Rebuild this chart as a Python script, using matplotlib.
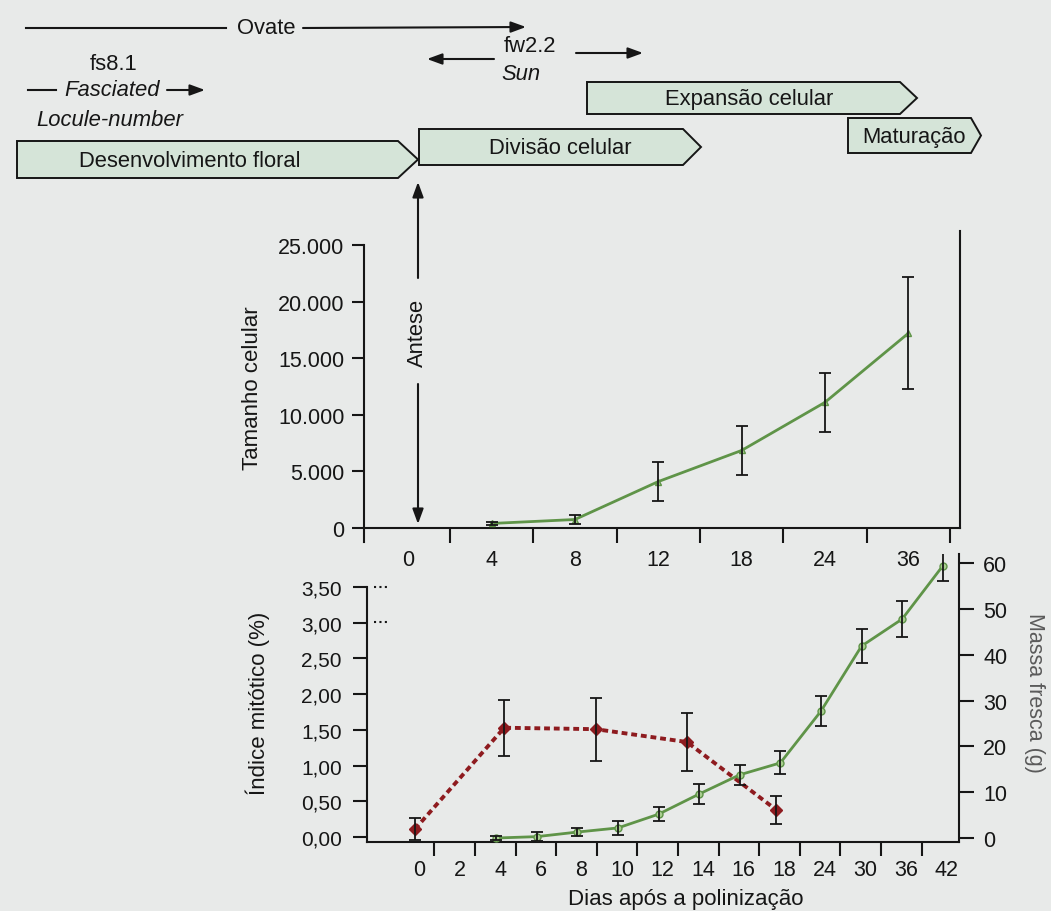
import matplotlib
matplotlib.use('Agg')
import matplotlib.pyplot as plt
from matplotlib.patches import Polygon
from matplotlib.ticker import FixedLocator

plt.rcParams['font.family'] = ['Liberation Sans', 'DejaVu Sans']

# ---------------- data ----------------
upper_labels = ['0', '4', '8', '12', '18', '24', '36']
cell_pos = [1, 2, 3, 4, 5, 6]
cell_size = [400, 750, 4100, 6850, 11100, 17200]
cell_err = [100, 400, 1720, 2180, 2620, 4930]
cell_yticks = [0, 5000, 10000, 15000, 20000, 25000]

lower_labels = ['0', '2', '4', '6', '8', '10', '12', '14', '16', '18', '24', '30', '36', '42']
mitotic_pos = [0.0, 2.2, 4.45, 6.7, 8.9]
mitotic = [0.11, 1.53, 1.51, 1.33, 0.38]
mitotic_err = [0.15, 0.39, 0.44, 0.40, 0.20]
mitotic_yticks = [0.0, 0.5, 1.0, 1.5, 2.0, 2.5, 3.0, 3.5]

mass_pos = [2, 3, 4, 5, 6, 7, 8, 9, 10, 11, 12, 13]
mass = [0.0, 0.3, 1.3, 2.2, 5.2, 9.6, 13.8, 16.4, 27.7, 41.9, 47.8, 59.4]
mass_err = [0.5, 1.0, 0.9, 1.5, 1.5, 2.2, 2.2, 2.5, 3.35, 3.7, 4.0, 3.2]
mass_yticks = [0, 10, 20, 30, 40, 50, 60]

phases = ['Desenvolvimento floral', 'Divisão celular', 'Expansão celular', 'Maturação']

# ---------------- style ----------------
BG = '#e8eae9'
BOX = '#d5e4d8'
GREEN = '#5f9448'
GREEN_FILL = '#a9cf8f'
RED = '#8e1b1f'
INK = '#161616'
W, H = 1051, 912
LW = 1.5
FS = 15.8

plt.rcParams['text.color'] = INK
plt.rcParams['xtick.color'] = INK
plt.rcParams['ytick.color'] = INK

fig = plt.figure(figsize=(W / 100, H / 100), dpi=100, facecolor=BG)


def rect(l, t, r, b):
    return [l / W, 1 - b / H, (r - l) / W, (b - t) / H]


# ---------------- upper chart: cell size ----------------
ax1 = fig.add_axes(rect(364, 232, 960, 543))
ax1.set_facecolor('none')
ax1.set_xlim(-0.53, 6.62)
ax1.set_ylim(-1237, 26237)
ax1.spines['top'].set_visible(False)
ax1.spines['bottom'].set_position(('data', 0))
ax1.spines['left'].set_bounds(-1237, 25000)
ax1.spines['right'].set_bounds(0, 26237)
for s in ax1.spines.values():
    s.set_linewidth(LW)
    s.set_color(INK)
ax1.set_yticks(cell_yticks)
ax1.set_yticklabels([f'{v:,}'.replace(',', '.') for v in cell_yticks])
ax1.tick_params(axis='y', direction='out', length=9, width=LW, pad=5, labelsize=15.5)
ax1.set_xticks(range(len(upper_labels)))
ax1.set_xticklabels(upper_labels)
ax1.xaxis.set_minor_locator(FixedLocator([i + 0.5 for i in range(len(upper_labels))]))
ax1.tick_params(axis='x', which='major', length=0, pad=15, labelsize=15.5)
ax1.tick_params(axis='x', which='minor', direction='out', length=10.5, width=LW)
ax1.plot(cell_pos, cell_size, color=GREEN, lw=2, marker='^', ms=5,
         mfc=GREEN_FILL, mec=GREEN, zorder=3)
ax1.errorbar(cell_pos, cell_size, yerr=cell_err, fmt='none', ecolor=INK,
             elinewidth=1.3, capsize=4.5, capthick=1.3, zorder=4)

# ---------------- lower chart: mitotic index + fresh mass ----------------
ax2 = fig.add_axes(rect(367, 555, 959, 843))
ax2.set_facecolor('none')
ax2.set_xlim(-1.18, 13.4)
ax2.set_ylim(-0.07, 3.963)
ax2.spines['top'].set_visible(False)
ax2.spines['right'].set_visible(False)
ax2.spines['left'].set_bounds(-0.07, 3.5)
for s in ax2.spines.values():
    s.set_linewidth(LW)
    s.set_color(INK)
ax2.set_yticks(mitotic_yticks)
ax2.set_yticklabels([f'{v:.2f}'.replace('.', ',') for v in mitotic_yticks])
ax2.tick_params(axis='y', direction='out', length=10, width=LW, pad=8, labelsize=15)
ax2.set_xticks([i + 0.1 for i in range(len(lower_labels))])
ax2.set_xticklabels(lower_labels)
ax2.xaxis.set_minor_locator(FixedLocator([i + 0.48 for i in range(len(lower_labels) - 1)]))
ax2.tick_params(axis='x', which='major', length=0, pad=12.3, labelsize=15.5)
ax2.tick_params(axis='x', which='minor', direction='out', length=10, width=LW)

ax2.plot(mitotic_pos, mitotic, color=RED, lw=2.8, ls=(0, (1.5, 1.0)),
         marker='D', ms=6.5, mfc=RED, mec=RED, zorder=3)
ax2.errorbar(mitotic_pos, mitotic, yerr=mitotic_err, fmt='none', ecolor=INK,
             elinewidth=1.3, capsize=4.5, capthick=1.3, zorder=4)

ax3 = ax2.twinx()
ax3.set_facecolor('none')
ax3.set_ylim(-0.87, 62.0)
for k in ('top', 'left', 'bottom'):
    ax3.spines[k].set_visible(False)
ax3.spines['right'].set_linewidth(LW)
ax3.spines['right'].set_color(INK)
ax3.set_yticks(mass_yticks)
ax3.set_yticklabels([str(v) for v in mass_yticks])
ax3.tick_params(axis='y', direction='out', length=10.5, width=LW, pad=7, labelsize=15.5)
ax3.plot(mass_pos, mass, color=GREEN, lw=2, marker='o', ms=5,
         mfc=GREEN_FILL, mec=GREEN, zorder=3)
ax3.errorbar(mass_pos, mass, yerr=mass_err, fmt='none', ecolor=INK,
             elinewidth=1.3, capsize=4, capthick=1.3, zorder=4)

# ---------------- overlay: phases, genes, labels ----------------
ax0 = fig.add_axes([0, 0, 1, 1], zorder=10)
ax0.set_xlim(0, W)
ax0.set_ylim(H, 0)
ax0.axis('off')
ax0.patch.set_alpha(0)


def arrow(x0, y0, x1, y1):
    ax0.annotate('', xy=(x1, y1), xytext=(x0, y0),
                 arrowprops=dict(arrowstyle='-|>,head_length=0.9,head_width=0.33',
                                 color=INK, lw=1.5, shrinkA=0, shrinkB=0))


def phase_box(l, t, b, br, tip, label, tx):
    mid = (t + b) / 2
    ax0.add_patch(Polygon([(l, t), (br, t), (tip, mid), (br, b), (l, b)], closed=True,
                          facecolor=BOX, edgecolor=INK, lw=1.4))
    ax0.text(tx, mid + 1, label, ha='center', va='center', fontsize=FS)


phase_box(17, 142, 179, 398, 418, phases[0], 190)
phase_box(419, 130, 166, 683, 701, phases[1], 560)
phase_box(587, 83, 115, 900, 917, phases[2], 749)
phase_box(848, 119, 154, 971, 981, phases[3], 914)

# Ovate
ax0.plot([26, 226], [29, 29], color=INK, lw=1.5)
ax0.text(266, 28, 'Ovate', ha='center', va='center', fontsize=FS)
arrow(303, 29, 526, 28)

# fw2.2 / Sun
ax0.text(530, 47, 'fw2.2', ha='center', va='center', fontsize=FS)
ax0.text(521, 75, 'Sun', ha='center', va='center', fontsize=FS, style='italic')
arrow(494, 60, 427, 60)
arrow(576, 54, 643, 54)

# fs8.1 / Fasciated / Locule-number
ax0.text(114, 65, 'fs8.1', ha='center', va='center', fontsize=FS)
ax0.plot([28, 56], [91, 91], color=INK, lw=1.5)
ax0.text(112, 91, 'Fasciated', ha='center', va='center', fontsize=FS, style='italic')
arrow(167, 91, 205, 91)
ax0.text(110, 121, 'Locule-number', ha='center', va='center', fontsize=FS, style='italic')

# Antese
arrow(418, 279, 418, 183)
arrow(418, 385, 418, 525)
ax0.text(417, 333, 'Antese', ha='center', va='center', fontsize=FS, rotation=90)

# axis break dots on lower left axis
for yy in (588, 623):
    ax0.plot([374, 388], [yy, yy], color=INK, lw=1.5, ls=(0, (1, 1.6)))

# axis titles
ax0.text(252, 388, 'Tamanho celular', ha='center', va='center', fontsize=16, rotation=90)
ax0.text(258, 703, 'Índice mitótico (%)', ha='center', va='center', fontsize=16, rotation=90)
ax0.text(1035, 693, 'Massa fresca (g)', ha='center', va='center', fontsize=15.5,
         rotation=-90, color='#5a5a5a')
ax0.text(686, 900, 'Dias após a polinização', ha='center', va='center', fontsize=16)

fig.savefig('out.png', dpi=100, facecolor=BG)
